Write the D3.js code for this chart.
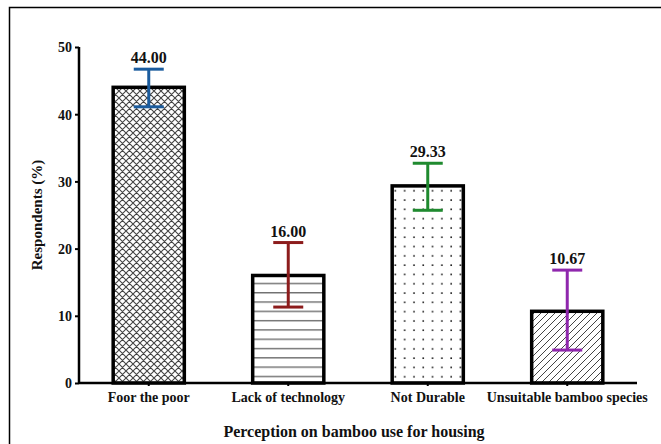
<!DOCTYPE html>
<html>
<head>
  <meta charset="utf-8">
  <title>Perception on bamboo use for housing</title>
  <script src="https://d3js.org/d3.v7.min.js" charset="utf-8"></script>
  <style>
  body {margin: 0; background: #fff;}
  </style>
</head>
<body>
<script>
// chart values
const categories = ["Foor the poor", "Lack of technology", "Not Durable", "Unsuitable bamboo species"];
const values = [44.00, 16.00, 29.33, 10.67];
const errLow = [41.1, 11.3, 25.7, 4.9];
const errHigh = [46.7, 20.9, 32.7, 16.8];
const valueLabels = ["44.00", "16.00", "29.33", "10.67"];
const errColors = ["#1b5c9e", "#8c1c1c", "#1f8a2f", "#8f27ad"];
const patterns = ["cross", "hlines", "dots", "diag"];
const yTicks = [0, 10, 20, 30, 40, 50];

const width = 661, height = 444;
const margin = {left: 79, right: 24, top: 47, bottom: 61};
const serif = "'Liberation Serif', 'Times New Roman', 'DejaVu Serif', serif";

const svg = d3.select("body").append("svg")
  .attr("width", width)
  .attr("height", height);

// outer frame (only top & left visible in the crop)
svg.append("path")
  .attr("d", `M9.5,${height} V7.5 H${width}`)
  .attr("fill", "none")
  .attr("stroke", "#000")
  .attr("stroke-width", 1.5);

// fill patterns
const defs = svg.append("defs");
const cross = defs.append("pattern").attr("id", "cross")
  .attr("patternUnits", "userSpaceOnUse").attr("width", 7).attr("height", 7);
cross.append("path").attr("d", "M0,0 L7,7 M7,0 L0,7 M-1,6 L1,8 M6,-1 L8,1 M-1,1 L1,-1 M6,8 L8,6")
  .attr("stroke", "#444").attr("stroke-width", 1.1);

const hl = defs.append("pattern").attr("id", "hlines")
  .attr("patternUnits", "userSpaceOnUse").attr("width", 10).attr("height", 9.3);
hl.append("line").attr("x1", 0).attr("x2", 10).attr("y1", 4.5).attr("y2", 4.5)
  .attr("stroke", "#333").attr("stroke-width", 1);

const dots = defs.append("pattern").attr("id", "dots")
  .attr("patternUnits", "userSpaceOnUse").attr("width", 9.3).attr("height", 9.3);
dots.append("rect").attr("x", 4).attr("y", 4).attr("width", 1.6).attr("height", 1.6).attr("fill", "#222");

const diag = defs.append("pattern").attr("id", "diag")
  .attr("patternUnits", "userSpaceOnUse").attr("width", 7).attr("height", 7);
diag.append("path").attr("d", "M0,7 L7,0 M-1,1 L1,-1 M6,8 L8,6")
  .attr("stroke", "#444").attr("stroke-width", 1);

const x = d3.scaleBand()
  .domain(categories)
  .range([margin.left, width - margin.right])
  .paddingInner(0.49)
  .paddingOuter(0.245);

const y = d3.scaleLinear()
  .domain([0, 50])
  .range([height - margin.bottom, margin.top]);

const data = categories.map((c, i) => ({
  cat: c, v: values[i], lo: errLow[i], hi: errHigh[i],
  label: valueLabels[i], color: errColors[i], pat: patterns[i]
}));

// bars
svg.selectAll("rect.bar")
  .data(data)
  .join("rect")
  .attr("class", "bar")
  .attr("x", d => x(d.cat))
  .attr("y", d => y(d.v))
  .attr("width", x.bandwidth())
  .attr("height", d => y(0) - y(d.v))
  .attr("fill", d => `url(#${d.pat})`)
  .attr("stroke", "#000")
  .attr("stroke-width", 3.5);

// error bars
const capW = 30;
const eb = svg.selectAll("g.err")
  .data(data)
  .join("g")
  .attr("class", "err")
  .attr("stroke", d => d.color)
  .attr("stroke-width", 3);
eb.append("line")
  .attr("x1", d => x(d.cat) + x.bandwidth() / 2)
  .attr("x2", d => x(d.cat) + x.bandwidth() / 2)
  .attr("y1", d => y(d.lo))
  .attr("y2", d => y(d.hi));
eb.append("line")
  .attr("x1", d => x(d.cat) + x.bandwidth() / 2 - capW / 2)
  .attr("x2", d => x(d.cat) + x.bandwidth() / 2 + capW / 2)
  .attr("y1", d => y(d.hi))
  .attr("y2", d => y(d.hi));
eb.append("line")
  .attr("x1", d => x(d.cat) + x.bandwidth() / 2 - capW / 2)
  .attr("x2", d => x(d.cat) + x.bandwidth() / 2 + capW / 2)
  .attr("y1", d => y(d.lo))
  .attr("y2", d => y(d.lo));

// value labels
svg.selectAll("text.val")
  .data(data)
  .join("text")
  .attr("class", "val")
  .attr("x", d => x(d.cat) + x.bandwidth() / 2)
  .attr("y", d => y(d.hi) - 6)
  .attr("text-anchor", "middle")
  .style("font-size", "16px")
  .text(d => d.label);

// y axis
const yAxis = svg.append("g")
  .attr("transform", `translate(${margin.left},0)`)
  .call(d3.axisLeft(y).tickValues(yTicks).tickSize(4).tickPadding(3));
yAxis.select(".domain").attr("stroke-width", 2.5).attr("d", `M0,${y(0)}V${y(50)}`);
yAxis.selectAll(".tick line").attr("stroke-width", 2);
yAxis.selectAll(".tick text").style("font-size", "14px").attr("dy", "0.35em");

// x axis
const xAxis = svg.append("g")
  .attr("transform", `translate(0,${y(0)})`)
  .call(d3.axisBottom(x).tickSize(3).tickPadding(6));
xAxis.select(".domain").attr("stroke-width", 2.5)
  .attr("d", `M${margin.left},0H${width - margin.right}`);
xAxis.selectAll(".tick line").attr("stroke-width", 2);
xAxis.selectAll(".tick text").style("font-size", "14px");

// axis titles
svg.append("text")
  .attr("x", 354)
  .attr("y", 437)
  .attr("text-anchor", "middle")
  .style("font-size", "16px")
  .text("Perception on bamboo use for housing");

svg.append("text")
  .attr("transform", `translate(42,${(y(0) + y(50)) / 2}) rotate(-90)`)
  .attr("text-anchor", "middle")
  .style("font-size", "15px")
  .text("Respondents  (%)");

// serif bold for every label
svg.selectAll("text")
  .style("font-family", serif)
  .style("font-weight", "bold")
  .attr("fill", "#111");
</script>
</body>
</html>
